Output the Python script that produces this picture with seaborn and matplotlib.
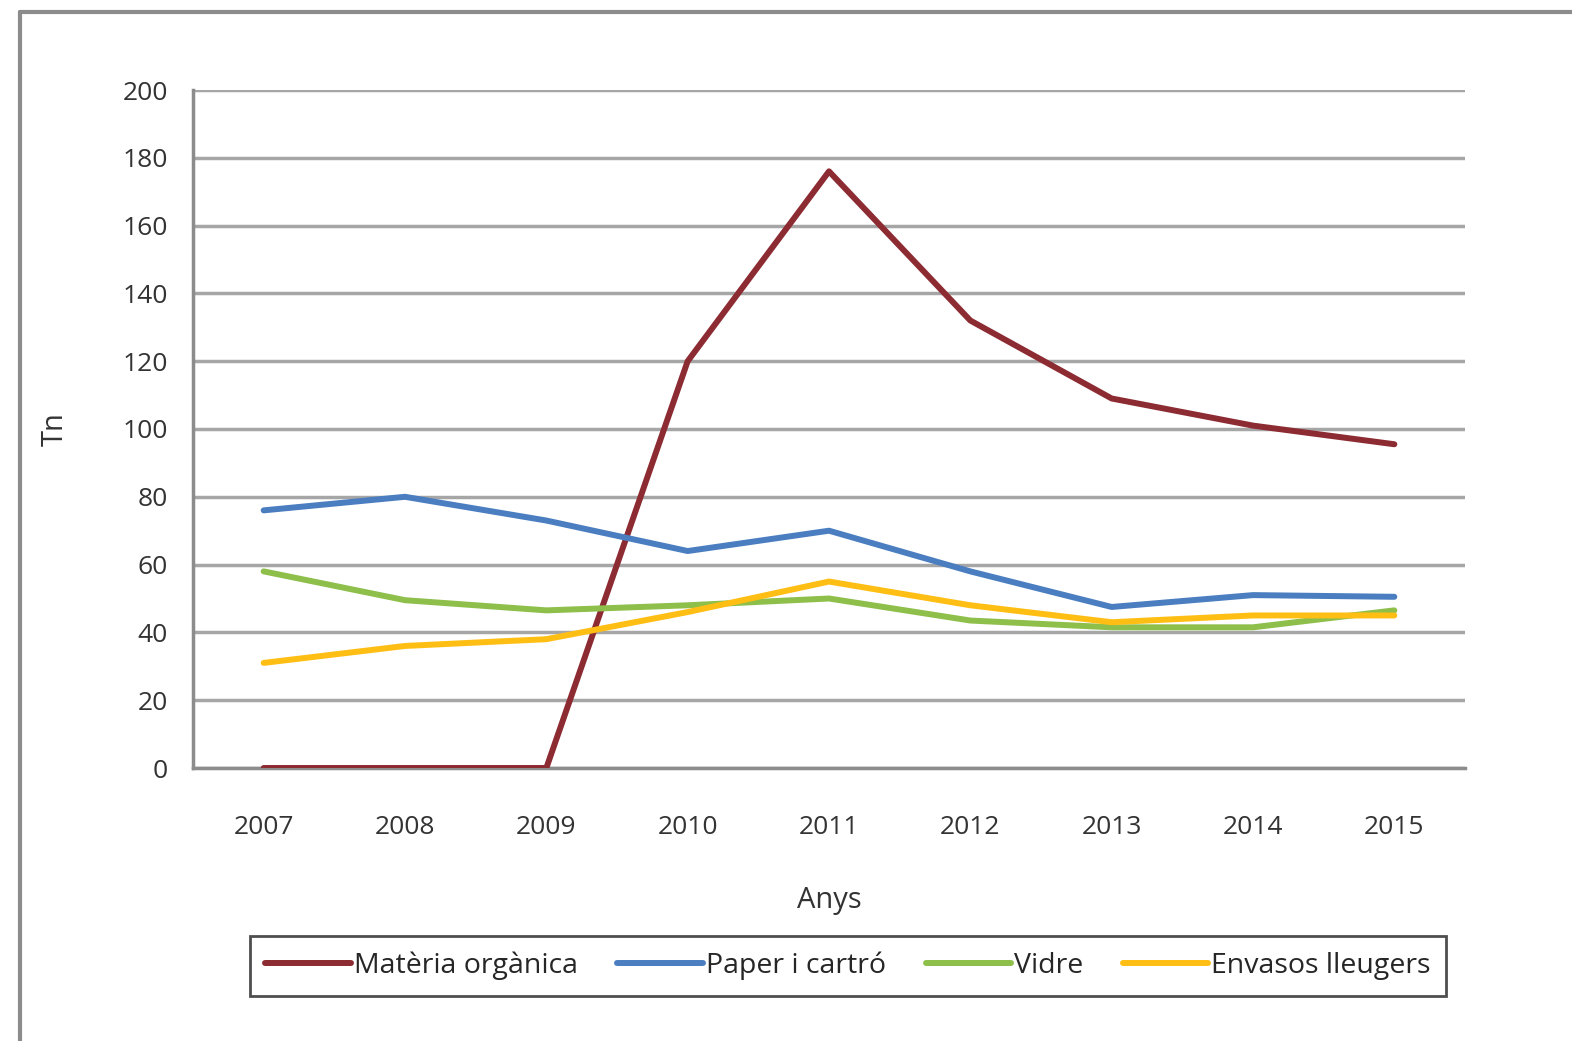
import matplotlib
matplotlib.use("Agg")
import matplotlib.pyplot as plt
import seaborn as sns
import pandas as pd
from matplotlib.lines import Line2D

# data
anys = [2007, 2008, 2009, 2010, 2011, 2012, 2013, 2014, 2015]
materia_organica = [0, 0, 0, 120, 176, 132, 109, 101, 95.5]
paper_cartro = [76, 80, 73, 64, 70, 58, 47.5, 51, 50.5]
vidre = [58, 49.5, 46.5, 48, 50, 43.5, 41.5, 41.5, 46.5]
envasos = [31, 36, 38, 46, 55, 48, 43, 45, 45]

series = ["Matèria orgànica", "Paper i cartró", "Vidre", "Envasos lleugers"]
colors = ["#8C2B32", "#4A7EC0", "#8DBF4A", "#FFBE14"]

df = pd.DataFrame({
    "Anys": anys * 4,
    "Tn": materia_organica + paper_cartro + vidre + envasos,
    "serie": [s for s in series for _ in anys],
})

sns.set_style("white")
plt.rcParams["font.family"] = ["Open Sans", "DejaVu Sans"]

fig = plt.figure(figsize=(15.72, 10.41), dpi=100)
ax = fig.add_axes([193 / 1572, 1 - 768 / 1041, (1465 - 193) / 1572, (768 - 90) / 1041])

sns.lineplot(data=df, x="Anys", y="Tn", hue="serie", palette=colors,
             linewidth=4.3, ax=ax, legend=False, zorder=3)

ax.set_xlim(2006.5, 2015.5)
ax.set_ylim(0, 200)
ax.set_yticks(range(0, 201, 20))
ax.set_xticks(anys)
ax.set_xticklabels([str(a) for a in anys])
ax.yaxis.grid(True, color="#A6A6A6", linewidth=2.5)
ax.set_axisbelow(True)
for s in ["top", "right"]:
    ax.spines[s].set_visible(False)
for s in ["left", "bottom"]:
    ax.spines[s].set_color("#8C8C8C")
    ax.spines[s].set_linewidth(2.5)
ax.tick_params(axis="y", length=8, width=2, color="#8C8C8C", labelsize=19, pad=10, labelcolor="#333333")
ax.tick_params(axis="x", length=0, labelsize=19, pad=34, labelcolor="#333333")
ax.set_ylabel("Tn", fontsize=21, labelpad=38, color="#333333")
ax.set_xlabel("Anys", fontsize=21, labelpad=33, color="#333333")

handles = [Line2D([], [], color=c, linewidth=4.3) for c in colors]
leg = fig.legend(handles, series, loc="center", bbox_to_anchor=(848 / 1572, 1 - 966 / 1041),
                 ncol=4, fontsize=20.5, frameon=True, fancybox=False, handlelength=3.0,
                 handletextpad=0.1, columnspacing=1.4, borderpad=0.55, borderaxespad=0)
leg.get_frame().set_edgecolor("#222222")
leg.get_frame().set_linewidth(2)

# outer chart frame
fig.add_artist(Line2D([20 / 1572, 20 / 1572], [0, 1 - 12 / 1041], color="#8C8C8C", linewidth=3,
                      transform=fig.transFigure))
fig.add_artist(Line2D([20 / 1572, 1], [1 - 12 / 1041, 1 - 12 / 1041], color="#8C8C8C", linewidth=3,
                      transform=fig.transFigure))

fig.savefig("out.png", dpi=100)
